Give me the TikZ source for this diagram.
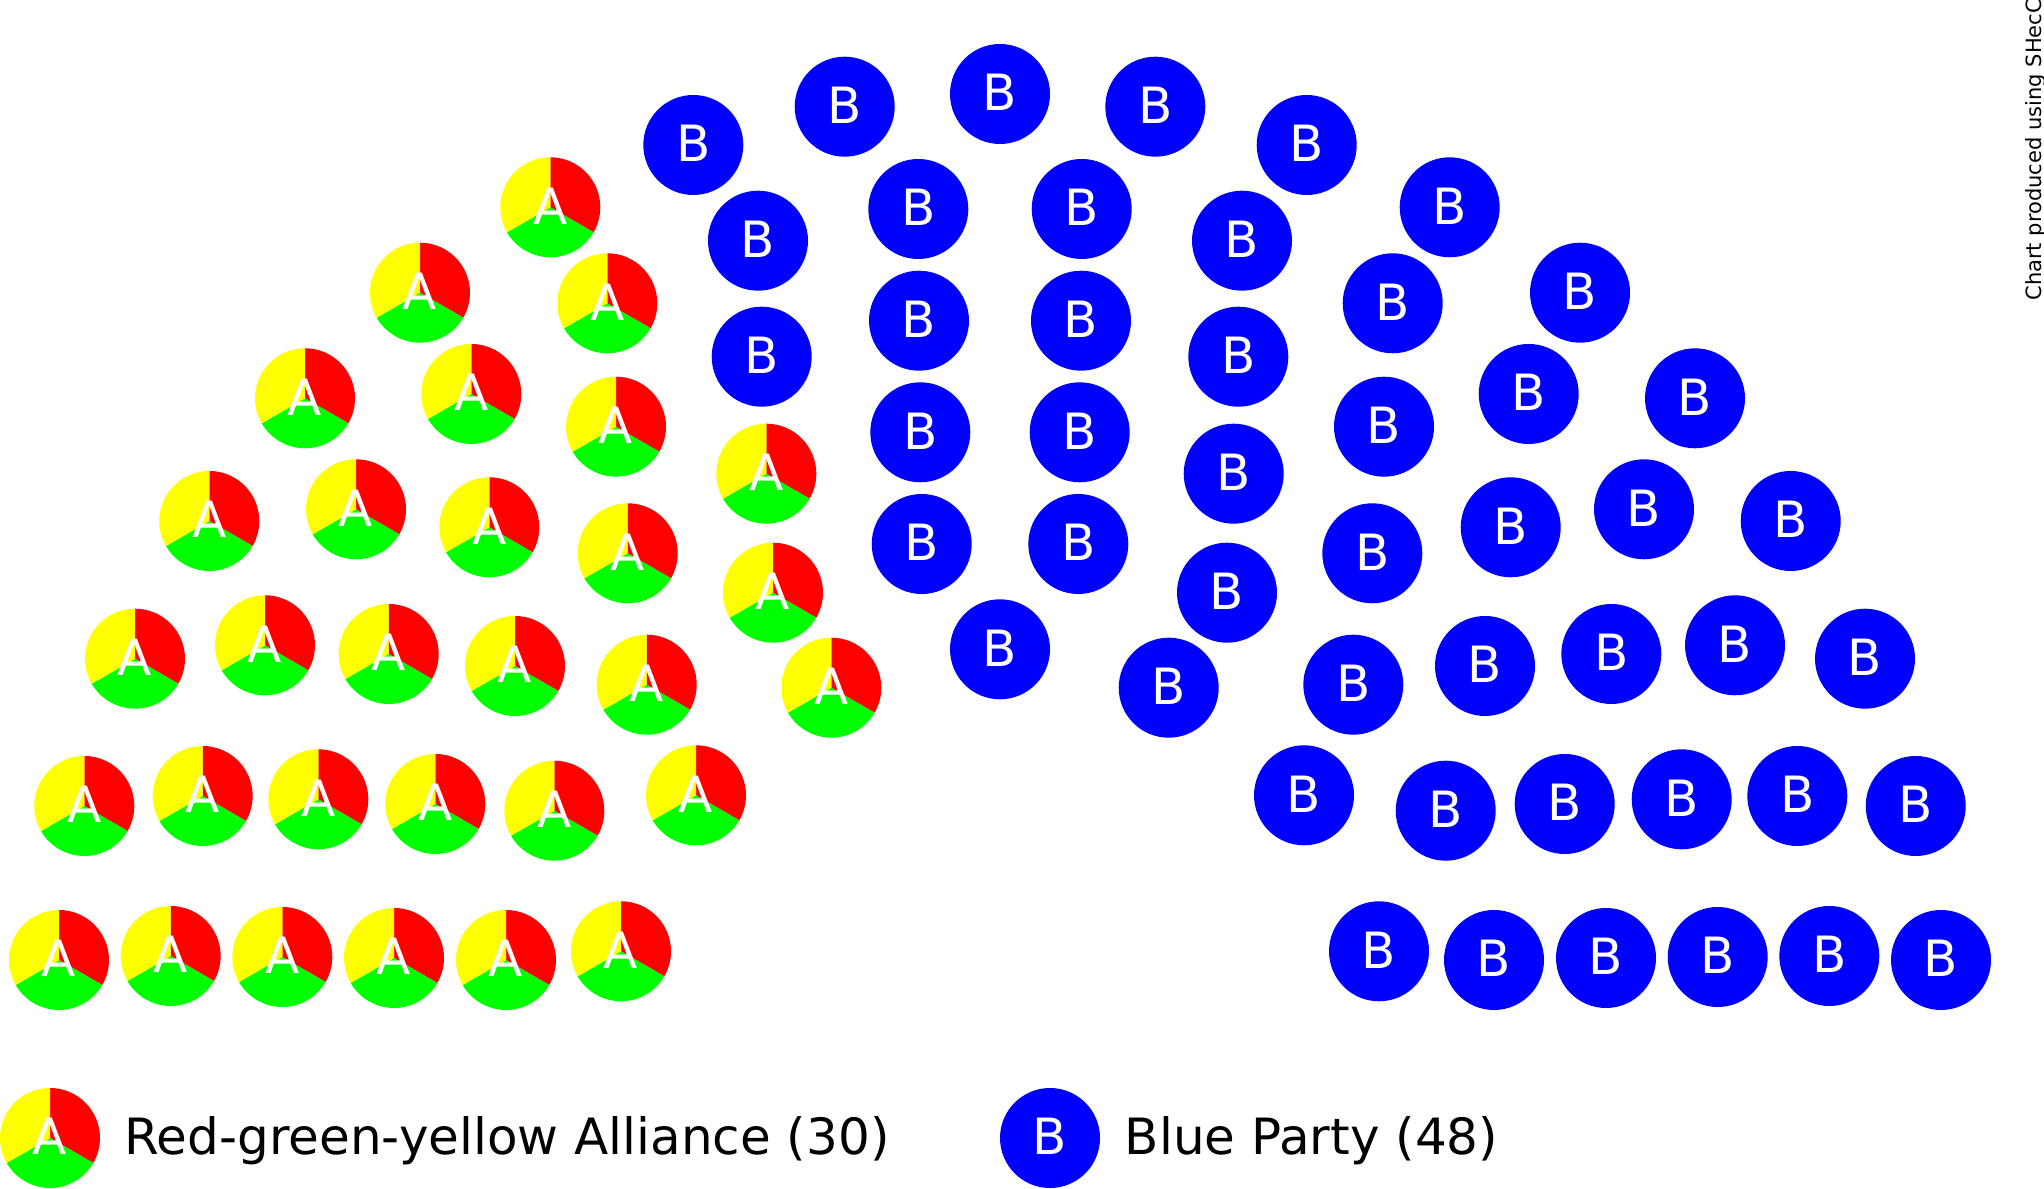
\documentclass[tikz,border=0pt]{standalone}
\usepackage{fontspec}
\setmainfont{DejaVu Sans}
\definecolor{pred}{HTML}{FF0000}
\definecolor{pgreen}{HTML}{00FF00}
\definecolor{pyellow}{HTML}{FFFF00}
\definecolor{pblue}{HTML}{0000FF}
\tikzset{
  seatbase/.style={circle, minimum size=50pt, inner sep=0pt, outer sep=0pt,
    text=white, font=\fontsize{25}{30}\selectfont, text depth=1.5pt},
  bseat/.style={seatbase, fill=pblue},
  aseat/.style={seatbase},
  legtext/.style={anchor=base west, inner sep=0pt, font=\fontsize{25}{30}\selectfont},
  sidetext/.style={anchor=base west, inner sep=0pt, rotate=90, font=\fontsize{10.5}{12}\selectfont}
}
\newcommand\Aseat[3]{%
  \coordinate (#1c) at (#2,{1188-#3});
  \fill[pred] (#1c) -- ++(90:50) arc[start angle=90,end angle=-30,radius=50] -- cycle;
  \fill[pgreen] (#1c) -- ++(-30:50) arc[start angle=-30,end angle=-150,radius=50] -- cycle;
  \fill[pyellow] (#1c) -- ++(210:50) arc[start angle=210,end angle=90,radius=50] -- cycle;
  \node[aseat] (#1) at (#1c) {A};
}
\begin{document}
\begin{tikzpicture}[x=0.5pt,y=0.5pt]
\useasboundingbox (0,0) rectangle (2044,1188);
\fill[white] (0,0) rectangle (2044,1188);
% Alliance seats (left side)
\foreach \px/\py [count=\i] in {
 550.3/207.3, 420/292.7, 607.3/303.3, 305/398.3, 471.3/394, 616/426.7,
 766.3/473.7, 209.3/521, 356/509.3, 489.3/527.3, 627.7/553.3, 773/592.7,
 135/658.7, 265/645.3, 388.7/654, 515/666, 646.7/684.7, 831.3/687.7,
 84.3/806, 202.7/796, 318.3/799.3, 435.3/804, 554.3/810.7, 696/795.3,
 59/960, 170.7/956, 282.3/957, 394/958, 506/960, 621/951.3}
 {\Aseat{a\i}{\px}{\py}}
% Blue seats on the left side
\foreach \px/\py [count=\i] in {
 693.3/145, 844.7/106.7, 758/240.7, 918.3/209, 761.7/356.7, 919/320.7,
 920.3/432.3, 921.7/544}
 {\node[bseat] (bl\i) at (\px,{1188-\py}) {B};}
% Blue seats on the centre line
\node[bseat] (bc1) at (1000,{1188-94}) {B};
\node[bseat] (bc2) at (1000,{1188-649.3}) {B};
% Blue seats on the right side (mirror of the left side)
\foreach \px/\py [count=\i] in {
 550.3/207.3, 420/292.7, 607.3/303.3, 305/398.3, 471.3/394, 616/426.7,
 766.3/473.7, 209.3/521, 356/509.3, 489.3/527.3, 627.7/553.3, 773/592.7,
 135/658.7, 265/645.3, 388.7/654, 515/666, 646.7/684.7, 831.3/687.7,
 84.3/806, 202.7/796, 318.3/799.3, 435.3/804, 554.3/810.7, 696/795.3,
 59/960, 170.7/956, 282.3/957, 394/958, 506/960, 621/951.3,
 693.3/145, 844.7/106.7, 758/240.7, 918.3/209, 761.7/356.7, 919/320.7,
 920.3/432.3, 921.7/544}
 {\node[bseat] (br\i) at ({2000-\px},{1188-\py}) {B};}
% Legend
\Aseat{legA}{50}{1138}
\node[legtext] (legAtext) at (124,{1188-1155}) {Red-green-yellow Alliance (30)};
\node[bseat] (legB) at (1050,{1188-1138}) {B};
\node[legtext] (legBtext) at (1124.4,{1188-1155}) {Blue Party (48)};
% Side note
\node[sidetext] (credit) at (2041,{1188-301}) {Chart produced using SHecC};
\end{tikzpicture}
\end{document}
